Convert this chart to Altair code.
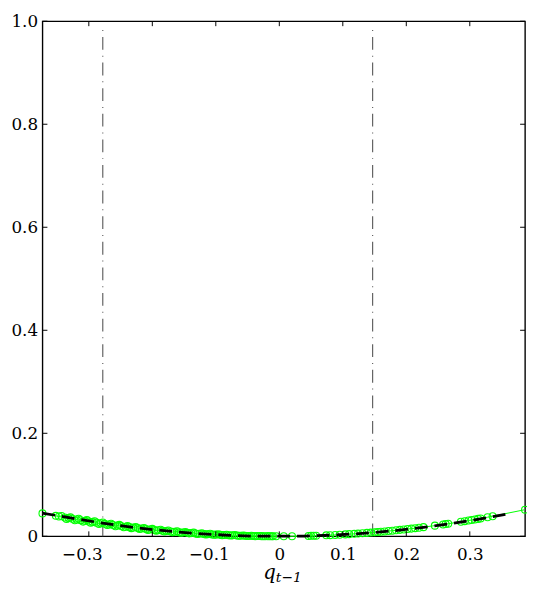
import altair as alt
import pandas as pd

# ---- data ----
pts_q = [-0.373, -0.352, -0.347, -0.338, -0.332, -0.326, -0.319, -0.313, -0.306, -0.300,
         -0.294, -0.288, -0.281, -0.275, -0.268, -0.262, -0.255, -0.249, -0.242, -0.236,
         -0.230, -0.223, -0.217, -0.210, -0.204, -0.197, -0.191, -0.184, -0.178, -0.171,
         -0.165, -0.158, -0.152, -0.145, -0.139, -0.132, -0.126, -0.119, -0.113, -0.106,
         -0.100, -0.093, -0.087, -0.080, -0.074, -0.067, -0.061, -0.054, -0.048, -0.041,
         -0.035, -0.028, -0.022, -0.015, -0.010, -0.005,
         -0.343, -0.335, -0.329, -0.322, -0.316, -0.309, -0.303, -0.297, -0.291, -0.284,
         -0.278, -0.271, -0.265, -0.258, -0.252, -0.245, -0.239, -0.233, -0.226, -0.220,
         -0.213, -0.207, -0.200, -0.194, -0.187, -0.181, -0.175, -0.168, -0.161, -0.155,
         -0.148, -0.142, -0.135, -0.129, -0.122, -0.116, -0.109, -0.103, -0.096, -0.090,
         -0.083, -0.077, -0.070, -0.064, -0.057, -0.051, -0.044, -0.038, -0.031, -0.025,
         -0.018, -0.012,
         0.007, 0.020, 0.046, 0.050, 0.054, 0.058, 0.074, 0.080, 0.088, 0.095,
         0.104, 0.110, 0.118, 0.124, 0.131, 0.138, 0.144, 0.150, 0.155, 0.160,
         0.166, 0.172, 0.178, 0.184, 0.190, 0.196, 0.202, 0.208, 0.214, 0.220,
         0.227, 0.245, 0.258, 0.262, 0.266, 0.286, 0.292, 0.298, 0.303, 0.308,
         0.313, 0.317, 0.328, 0.336, 0.387]
pts_y = [0.0445, 0.0397, 0.0385, 0.0366, 0.0353, 0.0340, 0.0326, 0.0313, 0.0300, 0.0288,
         0.0277, 0.0265, 0.0253, 0.0242, 0.0230, 0.0220, 0.0208, 0.0198, 0.0187, 0.0178,
         0.0169, 0.0159, 0.0151, 0.0141, 0.0133, 0.0124, 0.0117, 0.0108, 0.0101, 0.0094,
         0.0087, 0.0080, 0.0074, 0.0067, 0.0062, 0.0056, 0.0051, 0.0045, 0.0041, 0.0036,
         0.0032, 0.0028, 0.0024, 0.0020, 0.0018, 0.0014, 0.0012, 0.0009, 0.0007, 0.0005,
         0.0004, 0.0003, 0.0002, 0.0001, 0.0000, 0.0000,
         0.0395, 0.0338, 0.0368, 0.0310, 0.0342, 0.0285, 0.0315, 0.0265, 0.0292, 0.0240,
         0.0268, 0.0218, 0.0245, 0.0196, 0.0222, 0.0176, 0.0200, 0.0158, 0.0180, 0.0140,
         0.0162, 0.0124, 0.0145, 0.0108, 0.0128, 0.0094, 0.0113, 0.0080, 0.0098, 0.0068,
         0.0085, 0.0057, 0.0072, 0.0046, 0.0061, 0.0037, 0.0050, 0.0029, 0.0041, 0.0021,
         0.0031, 0.0014, 0.0024, 0.0009, 0.0017, 0.0005, 0.0011, 0.0002, 0.0007, 0.0001,
         0.0003, 0.0000,
         0.0000, 0.0001, 0.0007, 0.0009, 0.0010, 0.0012, 0.0019, 0.0022, 0.0027, 0.0031,
         0.0037, 0.0042, 0.0048, 0.0053, 0.0059, 0.0066, 0.0072, 0.0078, 0.0083, 0.0088,
         0.0095, 0.0102, 0.0109, 0.0117, 0.0125, 0.0133, 0.0141, 0.0149, 0.0158, 0.0167,
         0.0178, 0.0207, 0.0230, 0.0237, 0.0244, 0.0282, 0.0294, 0.0306, 0.0317, 0.0327,
         0.0338, 0.0347, 0.0371, 0.0390, 0.0517]

curve_q = [-0.373, -0.32, -0.27, -0.22, -0.17, -0.12, -0.07, -0.02, 0.03, 0.08,
           0.13, 0.18, 0.23, 0.28, 0.33, 0.36]
curve_y = [0.045, 0.034, 0.024, 0.016, 0.0095, 0.0048, 0.0016, 0.0001, 0.0003, 0.0021,
           0.0056, 0.0108, 0.0177, 0.0264, 0.0367, 0.0437]

vline_q = [-0.278, 0.147]
vline_top = 0.987

x_ticks = [-0.3, -0.2, -0.1, 0.0, 0.1, 0.2, 0.3]
y_ticks = [0.0, 0.2, 0.4, 0.6, 0.8, 1.0]
x_domain = [-0.373, 0.387]
y_domain = [0.0, 1.0]

W, H = 490, 523
FONT = "DejaVu Serif"
GREEN = "#00ff00"

pts = pd.DataFrame({"q": pts_q, "y": pts_y})
curve = pd.DataFrame({"q": curve_q, "y": curve_y})
vl = pd.DataFrame({"q": vline_q, "y0": [0.0] * len(vline_q), "y1": [vline_top] * len(vline_q)})
xt = pd.DataFrame({"q": x_ticks})
yt = pd.DataFrame({"y": y_ticks})

lab = "datum.value == 0 ? '0' : format(datum.value, '.1f')"
xscale = alt.Scale(domain=x_domain, nice=False, zero=False)
yscale = alt.Scale(domain=y_domain, nice=False)

xaxis = alt.Axis(values=x_ticks, labelExpr=lab, title=None, labelFont=FONT,
                 labelFontSize=17, labelColor="black", tickSize=0, domain=False,
                 grid=False, labelPadding=11,
                 labelOffset={"condition": {"test": "datum.value < 0", "value": -7}, "value": 0})
yaxis = alt.Axis(values=y_ticks, labelExpr=lab, title=None, labelFont=FONT,
                 labelFontSize=17, labelColor="black", tickSize=0, domain=False,
                 grid=False, labelPadding=5)

X = alt.X("q:Q", scale=xscale, axis=xaxis)
Y = alt.Y("y:Q", scale=yscale, axis=yaxis)

base_pts = alt.Chart(pts)
green_line = base_pts.mark_line(color=GREEN, strokeWidth=1).encode(x=X, y=Y, order="q:Q")
green_pts = base_pts.mark_point(shape="circle", filled=False, color=GREEN, size=50,
                                strokeWidth=1.1, opacity=1).encode(x=X, y=Y)

dash_curve = alt.Chart(curve).mark_line(color="black", strokeWidth=2.8, strokeDash=[13, 7],
                                        interpolate="monotone").encode(x=X, y=Y)

vlines = alt.Chart(vl).mark_rule(color="#555555", strokeWidth=1.1,
                                 strokeDash=[13, 6, 1, 6]).encode(
    x=X, y=alt.Y("y0:Q", scale=yscale, axis=yaxis), y2="y1:Q")

tick_col = "black"
bt = alt.Chart(xt).mark_rule(color=tick_col, strokeWidth=1).encode(
    x=X, y=alt.value(H), y2=alt.value(H - 5))
tt = alt.Chart(xt).mark_rule(color=tick_col, strokeWidth=1).encode(
    x=X, y=alt.value(0), y2=alt.value(5))
lt = alt.Chart(yt).mark_rule(color=tick_col, strokeWidth=1).encode(
    y=Y, x=alt.value(0), x2=alt.value(5))
rt = alt.Chart(yt).mark_rule(color=tick_col, strokeWidth=1).encode(
    y=Y, x=alt.value(W - 5), x2=alt.value(W))

tdf = pd.DataFrame({"t": ["q"]})
title_q = alt.Chart(tdf).mark_text(font=FONT, fontSize=20, fontStyle="italic", align="right",
                                   baseline="alphabetic", color="black").encode(
    x=alt.value(237), y=alt.value(566), text="t:N")
sdf = pd.DataFrame({"t": ["t\u22121"]})
title_s = alt.Chart(sdf).mark_text(font=FONT, fontSize=14, fontStyle="italic", align="left",
                                   baseline="alphabetic", color="black").encode(
    x=alt.value(237), y=alt.value(569), text="t:N")

chart = alt.layer(vlines, green_line, green_pts, dash_curve, bt, tt, lt, rt, title_q, title_s).properties(
    width=W, height=H,
    autosize=alt.AutoSizeParams(type="none"),
    padding={"left": 35, "top": 9, "right": 2, "bottom": 44},
    background="white",
).configure_view(stroke="black", strokeWidth=1.4)

chart.save("out.html", embed_options={"renderer": "svg", "actions": False})
